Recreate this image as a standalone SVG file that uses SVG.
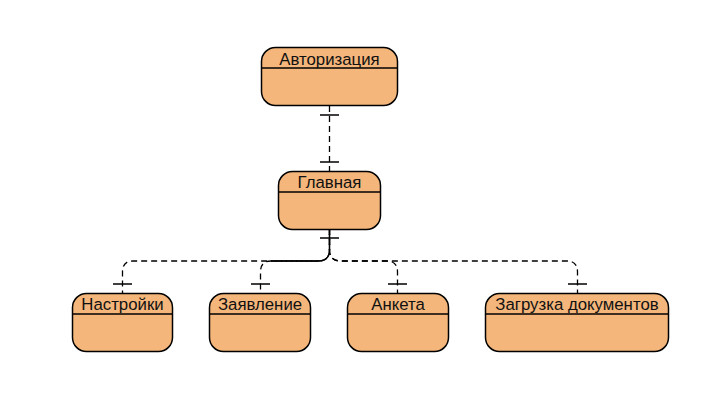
<svg xmlns="http://www.w3.org/2000/svg" width="715" height="410" viewBox="0 0 715 410">
<style>
.box{fill:#f4b67b;stroke:#000;stroke-width:1.5}
.hl{stroke:#000;stroke-width:1.3}
.t{font-family:"Liberation Sans",Arial,sans-serif;font-size:16.8px;fill:#111;text-anchor:middle}
.c{fill:none;stroke:#000;stroke-width:1.3;stroke-dasharray:6 4}
.tk{stroke:#000;stroke-width:1.5}
</style>
<rect width="715" height="410" fill="#fff"/>
<g id="connectors">
<path class="c" d="M329.5 106 V171"/>
<line class="tk" x1="320" y1="115" x2="339" y2="115"/>
<line class="tk" x1="320" y1="162" x2="339" y2="162"/>
<path class="c" d="M329.5 229 V250 Q329.5 261 318 261 H133 Q122.5 261 122.5 272 V293"/>
<path class="c" style="stroke-dashoffset:5" d="M329.5 229 V250 Q329.5 261 318 261 H271 Q260.5 261 260.5 272 V293"/>
<path class="c" d="M329.5 229 V250 Q329.5 261 341 261 H387 Q397.5 261 397.5 272 V293"/>
<path class="c" d="M329.5 229 V250 Q329.5 261 341 261 H567 Q577.5 261 577.5 272 V293"/>
<path d="M329.5 229 V250 Q329.5 261 318 261 H271" fill="none" stroke="#000" stroke-width="1.3"/>
<line class="tk" x1="320" y1="238" x2="339" y2="238"/>
<line class="tk" x1="113" y1="284" x2="132" y2="284"/>
<line class="tk" x1="251" y1="284" x2="270" y2="284"/>
<line class="tk" x1="388" y1="284" x2="407" y2="284"/>
<line class="tk" x1="568" y1="284" x2="587" y2="284"/>
</g>
<g id="node-auth">
<rect class="box" x="261.5" y="47.5" width="136" height="58" rx="14"/>
<line class="hl" x1="261.5" y1="68" x2="397.5" y2="68"/>
<text class="t" x="329.5" y="64.5">Авторизация</text>
</g>
<g id="node-main">
<rect class="box" x="278.5" y="171.5" width="102" height="58" rx="14"/>
<line class="hl" x1="278.5" y1="192" x2="380.5" y2="192"/>
<text class="t" x="329.5" y="187.5">Главная</text>
</g>
<g id="node-settings">
<rect class="box" x="72.5" y="293.5" width="100" height="58" rx="14"/>
<line class="hl" x1="72.5" y1="314" x2="172.5" y2="314"/>
<text class="t" x="122.5" y="309.5">Настройки</text>
</g>
<g id="node-application">
<rect class="box" x="209.5" y="293.5" width="101" height="58" rx="14"/>
<line class="hl" x1="209.5" y1="314" x2="310.5" y2="314"/>
<text class="t" x="260" y="309.5">Заявление</text>
</g>
<g id="node-form">
<rect class="box" x="347.5" y="293.5" width="101" height="58" rx="14"/>
<line class="hl" x1="347.5" y1="314" x2="448.5" y2="314"/>
<text class="t" x="398" y="309.5">Анкета</text>
</g>
<g id="node-upload">
<rect class="box" x="485.5" y="293.5" width="183" height="58" rx="14"/>
<line class="hl" x1="485.5" y1="314" x2="668.5" y2="314"/>
<text class="t" x="577" y="309.5">Загрузка документов</text>
</g>
</svg>
